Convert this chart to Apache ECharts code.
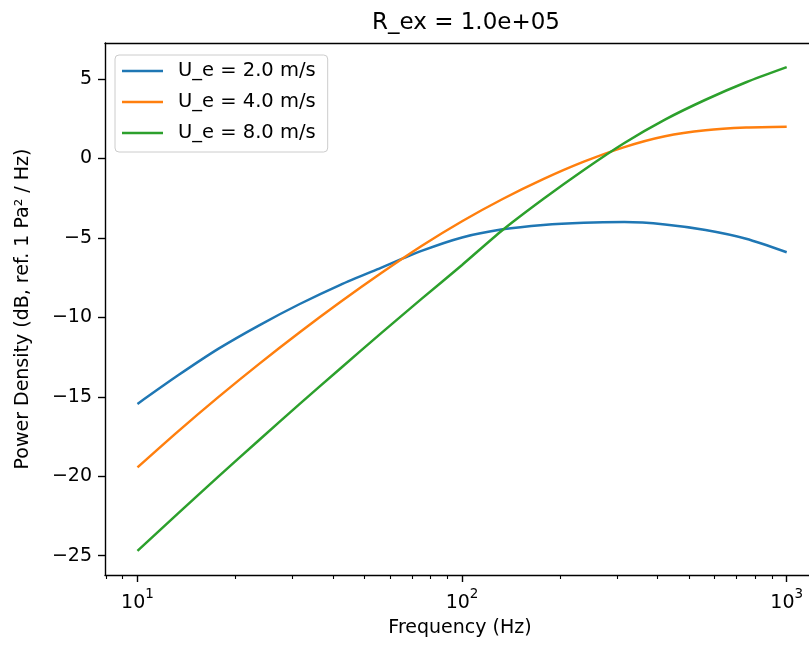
<!DOCTYPE html>
<html>
<head>
<meta charset="utf-8">
<script src="https://cdn.jsdelivr.net/npm/echarts@6/dist/echarts.min.js"></script>
<style>
html,body{margin:0;padding:0;background:#fff;}
#chart{width:809px;height:648px;}
</style>
</head>
<body>
<div id="chart"></div>
<script>
// ---- data ----
const freqs = [10, 13.34, 17.78, 23.71, 31.62, 42.17, 56.23, 74.99, 100, 133.35, 177.83, 237.14, 316.23, 421.7, 562.34, 749.89, 1000];
const ue2 = [-15.45, -13.65, -11.97, -10.5, -9.16, -7.95, -6.88, -5.82, -4.97, -4.46, -4.18, -4.04, -4.0, -4.15, -4.5, -5.05, -5.9];
const ue4 = [-19.45, -17.18, -15.01, -12.93, -10.94, -9.04, -7.23, -5.51, -3.95, -2.55, -1.3, -0.2, 0.72, 1.4, 1.78, 1.95, 2.0];
const ue8 = [-24.7, -22.34, -20.01, -17.72, -15.45, -13.22, -11.01, -8.84, -6.7, -4.5, -2.55, -0.72, 0.98, 2.45, 3.7, 4.8, 5.75];
const seriesNames = ['U_e = 2.0 m/s', 'U_e = 4.0 m/s', 'U_e = 8.0 m/s'];
const xMajorTicks = [10, 100, 1000];
const xMinorTicks = [8, 9, 20, 30, 40, 50, 60, 70, 80, 90, 200, 300, 400, 500, 600, 700, 800, 900];
const yTicks = [-25, -20, -15, -10, -5, 0, 5];
const titleText = 'R_ex = 1.0e+05';
const xLabel = 'Frequency (Hz)';
const yLabel = 'Power Density (dB, ref. 1 Pa\u00B2 / Hz)';

const colors = ['#1f77b4', '#ff7f0e', '#2ca02c'];
const FONT = 'DejaVu Sans';

const all = ue2.concat(ue4, ue8);
const dmin = Math.min.apply(null, all), dmax = Math.max.apply(null, all);
const span = dmax - dmin;
const yMin = dmin - 0.05 * span, yMax = dmax + 0.05 * span;
// the reference image is cut at its right edge, so the visible x range ends before 10^3.1
const xMin = Math.pow(10, 0.9), xMax = Math.pow(10, 3.0687);

function pairs(vals) { return freqs.map((f, i) => [f, vals[i]]); }

const chart = echarts.init(document.getElementById('chart'), null, {renderer: 'canvas'});
chart.setOption({
  animation: false,
  backgroundColor: '#fff',
  color: colors,
  title: {
    text: titleText,
    left: 461, top: 7, textAlign: 'center',
    textStyle: {fontFamily: FONT, fontSize: 23, fontWeight: 'normal', color: '#000'}
  },
  legend: {
    orient: 'vertical', left: 115, top: 55,
    data: seriesNames,
    icon: 'rect', itemWidth: 41, itemHeight: 2.5, itemGap: 11,
    padding: [6, 12, 9, 7],
    borderColor: '#cccccc', borderWidth: 1, borderRadius: 4,
    backgroundColor: 'rgba(255,255,255,0.8)',
    textStyle: {fontFamily: FONT, fontSize: 19.5, color: '#000', padding: [0, 0, 0, 10]}
  },
  grid: {left: 105, top: 43, right: 0, height: 532, containLabel: false},
  xAxis: [{
    type: 'log', logBase: 10, min: xMin, max: xMax, position: 'bottom',
    name: xLabel, nameLocation: 'middle', nameGap: 44,
    nameTextStyle: {fontFamily: FONT, fontSize: 19, color: '#000', padding: [0, 0, 0, 6]},
    axisLine: {show: true, onZero: false, lineStyle: {color: '#000', width: 1.4}},
    axisTick: {show: true, inside: false, length: 7, customValues: xMajorTicks, lineStyle: {color: '#000', width: 1.4}},
    axisLabel: {
      show: true, customValues: xMajorTicks, margin: 12,
      formatter: function (v) {
        const e = Math.round(Math.log10(v));
        return '{b|10}{s|' + e + '}';
      },
      rich: {
        b: {fontFamily: FONT, fontSize: 19, color: '#000', verticalAlign: 'bottom', lineHeight: 26},
        s: {fontFamily: FONT, fontSize: 13.5, color: '#000', verticalAlign: 'top', lineHeight: 26}
      }
    },
    splitLine: {show: false}
  }, {
    type: 'log', logBase: 10, min: xMin, max: xMax, position: 'bottom',
    axisLine: {show: false, onZero: false},
    axisTick: {show: true, length: 4, customValues: xMinorTicks, lineStyle: {color: '#000', width: 1.1}},
    axisLabel: {show: false},
    splitLine: {show: false}
  }, {
    type: 'log', logBase: 10, min: xMin, max: xMax, position: 'top',
    axisLine: {show: true, onZero: false, lineStyle: {color: '#000', width: 1.4}},
    axisTick: {show: false}, axisLabel: {show: false}, splitLine: {show: false}
  }],
  yAxis: [{
    type: 'value', min: yMin, max: yMax, position: 'left',
    name: yLabel, nameLocation: 'middle', nameGap: 72, nameRotate: 90,
    nameTextStyle: {fontFamily: FONT, fontSize: 19, color: '#000'},
    axisLine: {show: true, onZero: false, lineStyle: {color: '#000', width: 1.4}},
    axisTick: {show: true, length: 7, customValues: yTicks, lineStyle: {color: '#000', width: 1.4}},
    axisLabel: {
      show: true, customValues: yTicks, margin: 13,
      fontFamily: FONT, fontSize: 19, color: '#000',
      formatter: function (v) { return v < 0 ? '\u2212' + Math.abs(v) : String(v); }
    },
    splitLine: {show: false}
  }],
  series: [ue2, ue4, ue8].map((vals, i) => ({
    name: seriesNames[i], type: 'line', xAxisIndex: 0, yAxisIndex: 0,
    data: pairs(vals), smooth: 0.25, showSymbol: false, symbol: 'none',
    lineStyle: {color: colors[i], width: 2.5},
    itemStyle: {color: colors[i]}
  }))
});
</script>
</body>
</html>
